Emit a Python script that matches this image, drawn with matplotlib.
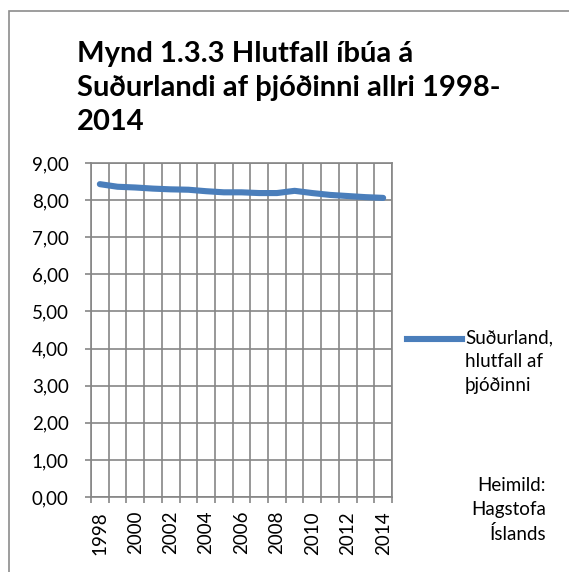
import numpy as np
import matplotlib
matplotlib.use("Agg")
from matplotlib import pyplot as plt
from matplotlib.ticker import FuncFormatter
from matplotlib.patches import Rectangle

years = list(range(1998, 2015))
share = [8.43, 8.36, 8.34, 8.31, 8.29, 8.28, 8.24, 8.21, 8.21,
         8.19, 8.19, 8.25, 8.19, 8.14, 8.11, 8.08, 8.06]
title = "Mynd 1.3.3 Hlutfall íbúa á\nSuðurlandi af þjóðinni allri 1998-\n2014"
series_label = "Suðurland,\nhlutfall af\nþjóðinni"
source = "Heimild:\nHagstofa\nÍslands"

plt.rcParams['font.family'] = ['Lato', 'DejaVu Sans']
W, H = 569, 572
fig = plt.figure(figsize=(W / 100, H / 100), dpi=100)

# outer chart frame (cut off at right/bottom like the source)
fig.patches.append(Rectangle((9 / W, -0.1), 1.2, 1 - 11 / H + 0.1,
                             transform=fig.transFigure, fill=False,
                             edgecolor="#8c8c8c", lw=1.2))

ax = fig.add_axes([91 / W, 1 - 497 / H, (392 - 91) / W, (497 - 163) / H])
x = np.arange(len(years))
ax.plot(x, share, color="#4a7ebb", lw=4.4, solid_capstyle="round")

ax.set_xlim(-0.5, len(years) - 0.5)
ax.set_ylim(0, 9)
ax.set_yticks(np.arange(0, 10, 1))
ax.yaxis.set_major_formatter(FuncFormatter(lambda v, p: f"{v:.2f}".replace(".", ",")))
ax.set_xticks(x[::2])
ax.set_xticklabels([str(y) for y in years[::2]], rotation=90)
ax.set_xticks(np.arange(-0.5, len(years)), minor=True)

gc = "#868686"
ax.grid(True, axis="y", color=gc, lw=1.2)
ax.grid(True, axis="x", which="minor", color=gc, lw=1.2)
ax.set_axisbelow(True)
for s in ax.spines.values():
    s.set_color(gc)
    s.set_linewidth(1.2)
fs = 13.5
ax.tick_params(axis="x", which="major", length=0, pad=10, labelsize=fs, colors="black")
ax.tick_params(axis="x", which="minor", length=4, color=gc, width=1.2)
ax.tick_params(axis="y", length=4, color=gc, width=1.2, pad=12, labelsize=fs)

fig.text(77 / W, 1 - 41 / H, title, ha="left", va="top", fontsize=21,
         fontweight="bold", linespacing=1.38)

# legend
fig.lines.append(plt.Line2D([407 / W, 462 / W], [1 - 339 / H] * 2,
                            transform=fig.transFigure, color="#4a7ebb", lw=4.4))
fig.text(465 / W, 1 - 329 / H, series_label, ha="left", va="top",
         fontsize=fs, linespacing=1.5)

fig.text(546 / W, 1 - 477 / H, source, ha="right", va="top",
         fontsize=fs, linespacing=1.5, multialignment="right")

fig.savefig("out.png", dpi=100)
